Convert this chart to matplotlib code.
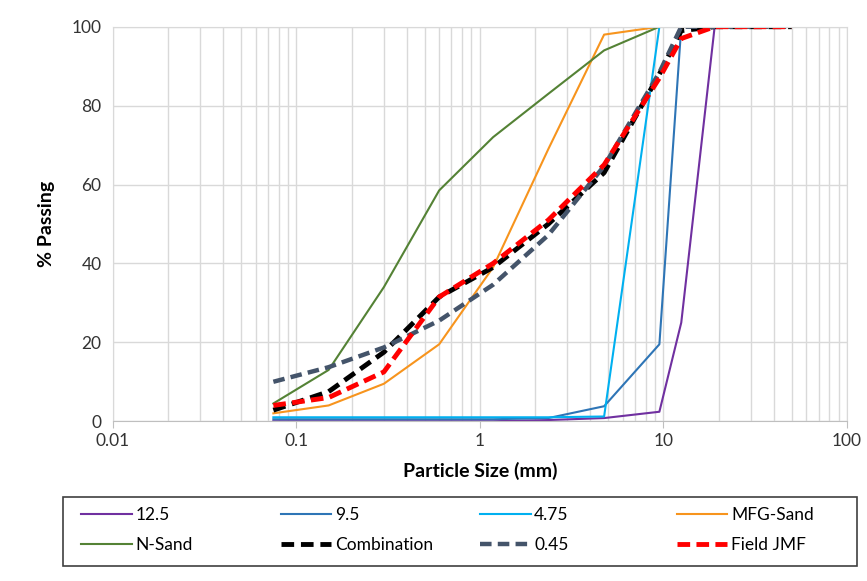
import matplotlib
matplotlib.use("Agg")
import matplotlib.pyplot as plt
from matplotlib.patches import Rectangle
from matplotlib.ticker import FixedLocator, NullFormatter

plt.rcParams['font.family'] = ['Lato', 'DejaVu Sans']

# Sieve sizes (mm)
sieves = [0.075, 0.15, 0.3, 0.6, 1.18, 2.36, 4.75, 9.5, 12.5, 19, 25, 37.5, 50]

# % passing for each material
p_125 = [0, 0, 0, 0, 0, 0.3, 0.8, 2.4, 25, 100, 100, 100, 100]
p_95 = [0.5, 0.5, 0.5, 0.5, 0.5, 0.8, 3.8, 19.5, 100, 100, 100, 100, 100]
p_475 = [1, 1, 1, 1, 1, 1, 1.2, 100, 100, 100, 100, 100, 100]
p_mfg = [2, 4, 9.5, 19.5, 39, 69, 98, 100, 100, 100, 100, 100, 100]
p_nsand = [4.5, 13, 34, 58.5, 72, 83, 94, 100, 100, 100, 100, 100, 100]
p_comb = [2.8, 7.5, 17.5, 31.5, 39, 50, 63, 88, 99, 100, 100, 100, 100]
p_045 = [10, 13.7, 18.7, 25.5, 34.6, 47.2, 64.7, 88.4, 100, 100, 100, 100, 100]
p_jmf = [4, 6, 12.5, 31.5, 40, 51, 65, 87, 97, 100, 100, 100, 100]

x_ticks = [0.01, 0.1, 1, 10, 100]
x_tick_labels = ['0.01', '0.1', '1', '10', '100']
y_ticks = [0, 20, 40, 60, 80, 100]

fig = plt.figure(figsize=(8.67, 5.81), dpi=100)
ax = fig.add_axes([0.130, 0.275, 0.847, 0.679])

grid_col = '#d9d9d9'
ax.plot(sieves, p_125, color='#7030A0', lw=1.5, label='12.5')
ax.plot(sieves, p_95, color='#2E75B6', lw=1.5, label='9.5')
ax.plot(sieves, p_475, color='#00B0F0', lw=1.5, label='4.75')
ax.plot(sieves, p_mfg, color='#F7941D', lw=1.5, label='MFG-Sand')
ax.plot(sieves, p_nsand, color='#548235', lw=1.5, label='N-Sand')
ax.plot(sieves, p_comb, color='black', lw=3.5, dashes=(2.6, 1.4), label='Combination')
ax.plot(sieves, p_045, color='#44546A', lw=3.2, dashes=(2.6, 1.4), label='0.45')
ax.plot(sieves, p_jmf, color='#FF0000', lw=3.5, dashes=(2.6, 1.3), label='Field JMF')

ax.set_xscale('log')
ax.set_xlim(0.01, 100)
ax.set_ylim(0, 100)
ax.xaxis.set_major_locator(FixedLocator(x_ticks))
ax.set_xticklabels(x_tick_labels)
minor = [m * d for d in [0.01, 0.1, 1, 10] for m in range(2, 10)]
ax.xaxis.set_minor_locator(FixedLocator(minor))
ax.xaxis.set_minor_formatter(NullFormatter())
ax.set_yticks(y_ticks)

ax.grid(True, which='both', axis='x', color=grid_col, lw=1)
ax.grid(True, which='major', axis='y', color=grid_col, lw=1)
ax.set_axisbelow(True)
for s in ['left', 'top', 'right']:
    ax.spines[s].set_color(grid_col)
ax.spines['bottom'].set_color('#bfbfbf')
ax.tick_params(axis='y', length=0, labelsize=12.5, pad=8, labelcolor='#333333')
ax.tick_params(axis='x', which='major', length=5, color='#bfbfbf', labelsize=12.5, labelcolor='#333333')
ax.tick_params(axis='x', which='minor', length=0)

ax.set_xlabel('Particle Size (mm)', fontsize=14, fontweight='bold', labelpad=9)
ax.set_ylabel('% Passing', fontsize=14, fontweight='bold', labelpad=12)

# Legend: boxed, 2 rows x 4 columns
handles, labels = ax.get_legend_handles_labels()
col_x = [0.094, 0.324, 0.554, 0.781]
for i in range(4):
    hs = [handles[i], handles[i + 4]]
    ls = [labels[i], labels[i + 4]]
    fig.legend(hs, ls, loc='upper left', bbox_to_anchor=(col_x[i], 0.128),
               bbox_transform=fig.transFigure, frameon=False, fontsize=12.5,
               handlelength=2.9, handletextpad=0.2, labelspacing=0.85,
               borderaxespad=0, borderpad=0)
fig.patches.append(Rectangle((0.073, 0.025), 0.915, 0.120, transform=fig.transFigure,
                             fill=False, edgecolor='#404040', lw=1.2))

fig.savefig('out.png', dpi=100)
